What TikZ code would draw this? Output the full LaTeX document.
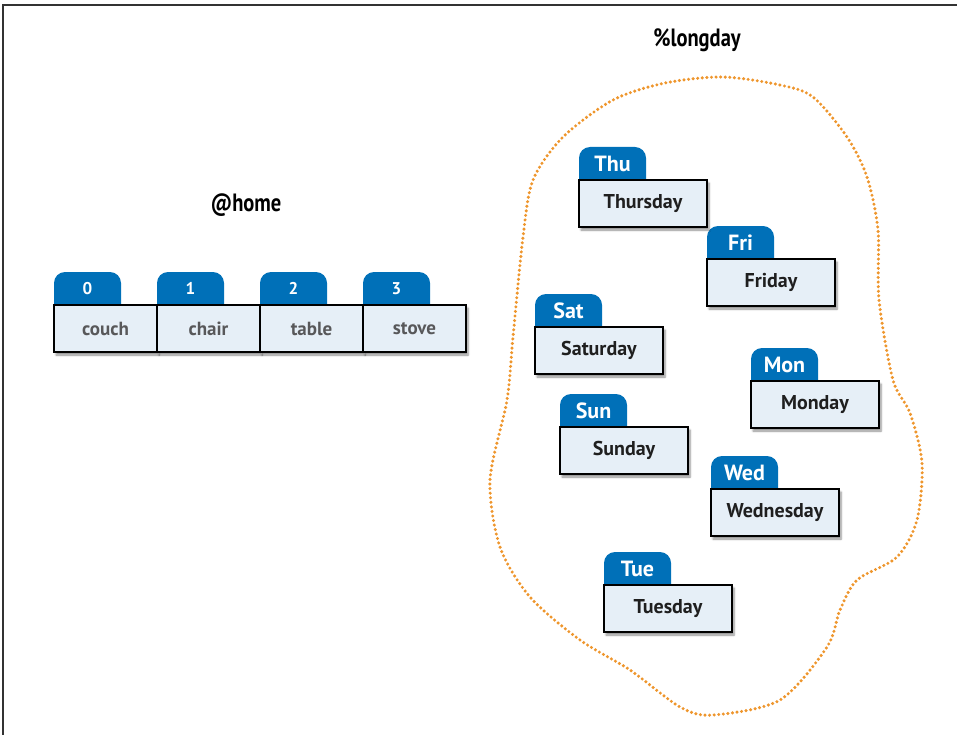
\documentclass[tikz,border=0pt]{standalone}
\usepackage{fontspec}
\setmainfont{PT Sans}
\usetikzlibrary{positioning,shadows.blur}
\definecolor{tabblue}{RGB}{0,112,184}
\definecolor{boxfill}{RGB}{230,239,247}
\definecolor{dotorange}{RGB}{238,150,45}
\definecolor{cellgrey}{RGB}{88,88,90}
\pgfdeclarelayer{background}
\pgfsetlayers{background,main}

\begin{document}
\begin{tikzpicture}[x=1pt,y=-1pt,
  cell/.style={rectangle,draw,line width=2.5pt,fill=boxfill,minimum width=103pt,minimum height=47pt,
    inner sep=0pt,outer sep=0pt,text=cellgrey,font=\fontsize{19}{19}\selectfont\bfseries,
    blur shadow={shadow xshift=2pt,shadow yshift=-3pt,shadow blur steps=6,shadow opacity=45}},
  daybox/.style={cell,minimum width=128pt,text=black!88,font=\fontsize{20}{20}\selectfont\bfseries},
  tab/.style={minimum width=67pt,minimum height=33pt,inner sep=0pt,outer sep=0pt,text=white,
    font=\fontsize{22}{22}\selectfont\bfseries},
  idx/.style={tab,font=\fontsize{17}{17}\selectfont\bfseries},
  title/.style={font=\fontsize{25}{25}\selectfont\bfseries}]
\useasboundingbox (0,0) rectangle (957,735);
\draw[line width=1.5pt,black!80] (3,735) -- (3,5) -- (957,5);

% the array
\node[title] (home) at (246,205) {\scalebox{0.82}[1]{@home}};
\node[cell,anchor=north west] (c0) at (54,305) {couch};
\node[cell,right=0pt of c0] (c1) {chair};
\node[cell,right=0pt of c1] (c2) {table};
\node[cell,right=0pt of c2] (c3) {stove};
\node[idx,above right=0pt of c0.north west] (i0) {0};
\node[idx,above right=0pt of c1.north west] (i1) {1};
\node[idx,above right=0pt of c2.north west] (i2) {2};
\node[idx,above right=0pt of c3.north west] (i3) {3};

% the hash
\node[title] (longday) at (697,40) {\scalebox{0.82}[1]{\%longday}};
\draw[dotorange,line width=3.4pt,line cap=round,dash pattern=on 0pt off 4.6pt]
  plot[smooth cycle] coordinates {(723,77) (780,85) (813,97) (847,137) (867,177) (878,230)
  (879,300) (893,380) (910,413) (922,463) (917,520) (897,557) (857,580) (840,610) (827,647)
  (780,700) (713,715) (680,707) (630,670) (580,640) (530,597) (500,547) (490,480) (507,400)
  (513,337) (523,237) (533,180) (563,137) (613,100) (665,83)};

\node[daybox,anchor=north west] (thu) at (579,180) {Thursday};
\node[daybox,anchor=north west] (fri) at (707,259) {Friday};
\node[daybox,anchor=north west] (sat) at (535,327) {Saturday};
\node[daybox,anchor=north west] (mon) at (751,381) {Monday};
\node[daybox,anchor=north west] (sun) at (560,427) {Sunday};
\node[daybox,anchor=north west] (wed) at (711,489) {Wednesday};
\node[daybox,anchor=north west] (tue) at (604,585) {Tuesday};
\node[tab,above right=0pt of thu.north west] (thutab) {Thu};
\node[tab,above right=0pt of fri.north west] (fritab) {Fri};
\node[tab,above right=0pt of sat.north west] (sattab) {Sat};
\node[tab,above right=0pt of mon.north west] (montab) {Mon};
\node[tab,above right=0pt of sun.north west] (suntab) {Sun};
\node[tab,above right=0pt of wed.north west] (wedtab) {Wed};
\node[tab,above right=0pt of tue.north west] (tuetab) {Tue};

\begin{pgfonlayer}{background}
\foreach \t in {i0,i1,i2,i3,thutab,fritab,sattab,montab,suntab,wedtab,tuetab}
  \fill[tabblue,rounded corners=11pt] (\t.north west) rectangle ([yshift=-14pt]\t.south east);
\end{pgfonlayer}
\end{tikzpicture}
\end{document}
